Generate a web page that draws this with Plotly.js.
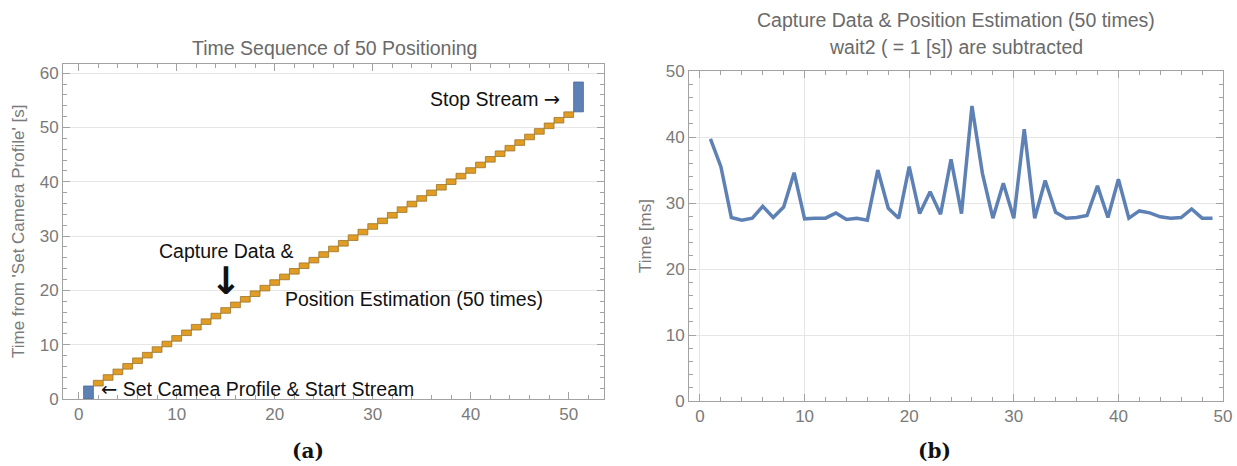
<!DOCTYPE html>
<html>
<head>
<meta charset="utf-8">
<script src="https://cdn.plot.ly/plotly-3.0.1.min.js"></script>
<style>
  html, body { margin: 0; padding: 0; background: #fff; }
  #chart { width: 1237px; height: 466px; }
</style>
</head>
<body>
<div id="chart"></div>
<script>
// Capture + position-estimation time per cycle [ms], wait2 (1 s) excluded
const captureIndex = [1,2,3,4,5,6,7,8,9,10,11,12,13,14,15,16,17,18,19,20,21,22,23,24,25,
                      26,27,28,29,30,31,32,33,34,35,36,37,38,39,40,41,42,43,44,45,46,47,48,49];
const captureMs = [39.7,35.5,27.8,27.4,27.7,29.5,27.8,29.4,34.6,27.6,27.7,27.7,28.5,27.5,27.7,
                   27.4,35.0,29.2,27.7,35.5,28.4,31.7,28.3,36.6,28.4,44.7,34.5,27.7,33.0,27.7,
                   41.2,27.7,33.4,28.6,27.7,27.8,28.1,32.6,27.8,33.6,27.7,28.8,28.5,27.9,27.7,
                   27.8,29.1,27.7,27.7];

// Time sequence [s]
const waitSeconds = 1.0;          // wait2 between positionings
const startStreamSlot = 1;        // bar slot of "Set Camera Profile & Start Stream"
const startStreamDuration = 2.4;  // [s]
const stopStreamSlot = 51;        // bar slot of "Stop Stream"
const stopStreamDuration = 5.5;   // [s]

// Build the staircase of positioning cycles
const cycleSlots = captureIndex.map(i => i + startStreamSlot);
const cycleDurations = captureMs.map(ms => waitSeconds + ms / 1000);
const cycleStarts = [];
let t = startStreamDuration;
for (const d of cycleDurations) { cycleStarts.push(t); t += d; }
const stopStreamStart = t;

const BLUE = '#5e81b5';
const ORANGE = '#e19c24';
const FRAME = '#a2a2a2';
const TICKTXT = '#7a7a7a';
const GRID = '#e6e6e6';
const SANS = 'Liberation Sans, Arial, sans-serif';
const ARROW = '<span style="font-family:DejaVu Sans">';

const traces = [
  { type: 'bar', x: [startStreamSlot], y: [startStreamDuration], base: [0], width: 1,
    marker: { color: BLUE, line: { color: '#4a6a9a', width: 0.8 } },
    xaxis: 'x', yaxis: 'y', hoverinfo: 'skip' },
  { type: 'bar', x: cycleSlots, y: cycleDurations, base: cycleStarts, width: 1,
    marker: { color: ORANGE, line: { color: '#9c7428', width: 0.8 } },
    xaxis: 'x', yaxis: 'y', hoverinfo: 'skip' },
  { type: 'bar', x: [stopStreamSlot], y: [stopStreamDuration], base: [stopStreamStart], width: 1,
    marker: { color: BLUE, line: { color: '#4a6a9a', width: 0.8 } },
    xaxis: 'x', yaxis: 'y', hoverinfo: 'skip' },
  { type: 'scatter', mode: 'lines', x: captureIndex, y: captureMs,
    line: { color: BLUE, width: 3.5 }, xaxis: 'x2', yaxis: 'y2', hoverinfo: 'skip' }
];

function frameAxis(extra) {
  return Object.assign({
    showline: true, linecolor: FRAME, linewidth: 1, mirror: 'allticks',
    ticks: 'inside', ticklen: 7, tickwidth: 1, tickcolor: FRAME,
    tickfont: { family: SANS, size: 17, color: TICKTXT },
    zeroline: false, showgrid: true, gridcolor: GRID, gridwidth: 1,
    fixedrange: true
  }, extra);
}
const minor2 = { dtick: 2, ticks: 'inside', ticklen: 4, tickcolor: FRAME, showgrid: false };

const W = 1237, H = 466;
const px = v => v / W;
const py = v => 1 - v / H;

const titleFont = { family: SANS, size: 19.5, color: '#6a6a6a' };
const noteFont = { family: SANS, size: 19.5, color: '#111' };

const layout = {
  width: W, height: H,
  margin: { l: 0, r: 0, t: 0, b: 0 },
  paper_bgcolor: '#fff', plot_bgcolor: '#fff',
  showlegend: false, barmode: 'overlay',
  xaxis: frameAxis({ domain: [px(63), px(604)], range: [-1.6, 53.6], tick0: 0, dtick: 10,
                     showgrid: false, minor: minor2, anchor: 'y' }),
  yaxis: frameAxis({ domain: [py(399), py(64)], range: [0, 61.7], tick0: 0, dtick: 10,
                     minor: minor2, anchor: 'x' }),
  xaxis2: frameAxis({ domain: [px(689), px(1223)], range: [-1.05, 50], tick0: 0, dtick: 10,
                      minor: minor2, anchor: 'y2' }),
  yaxis2: frameAxis({ domain: [py(401), py(71)], range: [0, 50], tick0: 0, dtick: 10,
                      minor: minor2, anchor: 'x2' }),
  annotations: [
    // panel titles
    { xref: 'paper', yref: 'paper', x: px(334), y: py(48), text: 'Time Sequence of 50 Positioning',
      showarrow: false, xanchor: 'center', yanchor: 'middle', font: titleFont },
    { xref: 'paper', yref: 'paper', x: px(956), y: py(20), text: 'Capture Data &amp; Position Estimation (50 times)',
      showarrow: false, xanchor: 'center', yanchor: 'middle', font: titleFont },
    { xref: 'paper', yref: 'paper', x: px(956), y: py(47), text: 'wait2 ( = 1 [s]) are subtracted',
      showarrow: false, xanchor: 'center', yanchor: 'middle', font: titleFont },
    // axis titles
    { xref: 'paper', yref: 'paper', x: px(18), y: py(232), text: "Time from 'Set Camera Profile' [s]",
      showarrow: false, textangle: -90, xanchor: 'center', yanchor: 'middle',
      font: { family: SANS, size: 17, color: TICKTXT } },
    { xref: 'paper', yref: 'paper', x: px(645), y: py(236), text: 'Time [ms]',
      showarrow: false, textangle: -90, xanchor: 'center', yanchor: 'middle',
      font: { family: SANS, size: 17, color: TICKTXT } },
    // in-plot notes
    { xref: 'x', yref: 'y', x: 49.3, y: 55.2, text: 'Stop Stream ' + ARROW + '→</span>',
      showarrow: false, xanchor: 'right', yanchor: 'middle', font: noteFont },
    { xref: 'x', yref: 'y', x: 15.0, y: 27.3, text: 'Capture Data &amp;',
      showarrow: false, xanchor: 'center', yanchor: 'middle', font: noteFont },
    { xref: 'x', yref: 'y', x: 15.0, y: 21.8, text: '<b>↓</b>',
      showarrow: false, xanchor: 'center', yanchor: 'middle',
      font: { family: 'DejaVu Sans, sans-serif', size: 38, color: '#111' } },
    { xref: 'x', yref: 'y', x: 20.8, y: 18.4, text: 'Position Estimation (50 times)',
      showarrow: false, xanchor: 'left', yanchor: 'middle', font: noteFont },
    { xref: 'x', yref: 'y', x: 2.1, y: 1.8, text: ARROW + '←</span> Set Camea Profile &amp; Start Stream',
      showarrow: false, xanchor: 'left', yanchor: 'middle', font: noteFont },
    // panel labels
    { xref: 'paper', yref: 'paper', x: px(308), y: py(451), text: '<b>(a)</b>',
      showarrow: false, xanchor: 'center', yanchor: 'middle',
      font: { family: 'DejaVu Serif, serif', size: 20, color: '#111' } },
    { xref: 'paper', yref: 'paper', x: px(934), y: py(451), text: '<b>(b)</b>',
      showarrow: false, xanchor: 'center', yanchor: 'middle',
      font: { family: 'DejaVu Serif, serif', size: 20, color: '#111' } }
  ]
};

Plotly.newPlot('chart', traces, layout, { displayModeBar: false, staticPlot: true });
</script>
</body>
</html>
